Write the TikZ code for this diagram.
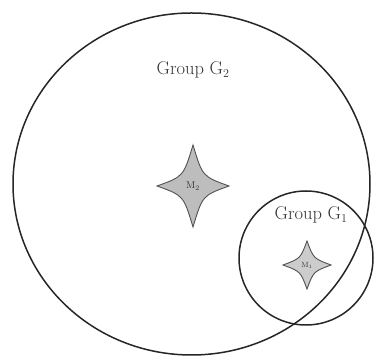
\documentclass[tikz,border=0pt]{standalone}
\usetikzlibrary{shapes.geometric}
\definecolor{inkline}{gray}{0.15}
\definecolor{starfillA}{gray}{0.74}
\definecolor{starfillB}{gray}{0.80}
\tikzset{
  group/.style={draw=inkline, line width=1.5pt, inner sep=0pt},
  grouplabel/.style={font=\fontsize{18.5}{21}\selectfont, text=black!80},
  starlabel/.style={inner sep=0pt, text=black!80},
}
\newcommand{\mystar}[6]{% center x, y, half-width, half-height, control offset, fill
  \filldraw[fill=#6, draw=inkline!80, line width=0.9pt, line join=miter]
    (#1+#3,#2) .. controls (#1+#5,#2+#5) and (#1+#5,#2+#5) .. (#1,#2+#4)
    .. controls (#1-#5,#2+#5) and (#1-#5,#2+#5) .. (#1-#3,#2)
    .. controls (#1-#5,#2-#5) and (#1-#5,#2-#5) .. (#1,#2-#4)
    .. controls (#1+#5,#2-#5) and (#1+#5,#2-#5) .. cycle;
}
\begin{document}
\begin{tikzpicture}[x=1pt,y=1pt]
\useasboundingbox (0,0) rectangle (378,358);
\node[group, ellipse, minimum width=357pt, minimum height=342pt] (G2) at (191.5,174) {};
\node[group, circle, minimum size=134pt] (G1) at (306,100) {};
\mystar{193}{172}{36}{41}{9.5}{starfillA}
\mystar{307}{93}{24}{24}{6.5}{starfillB}
\node[starlabel, font=\fontsize{10}{11}\selectfont] (M2) at (193,172) {M$_2$};
\node[starlabel, font=\fontsize{7.5}{8}\selectfont] (M1) at (307,93) {M$_1$};
\node[grouplabel] (L2) at (193,288) {Group G$_2$};
\node[grouplabel] (L1) at (311,143) {Group G$_1$};
\end{tikzpicture}
\end{document}
